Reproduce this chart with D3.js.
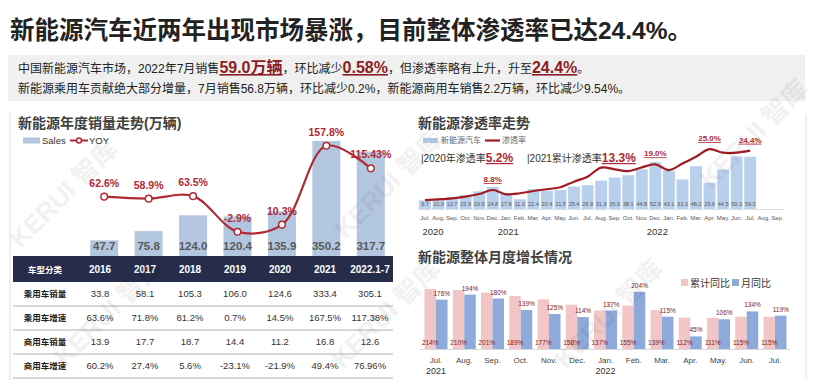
<!DOCTYPE html>
<html>
<head>
<meta charset="utf-8">
<script src="https://d3js.org/d3.v7.min.js"></script>
<style>
  html, body { margin: 0; padding: 0; background: #fff; }
  svg text { font-family: "Liberation Sans", "Noto Sans CJK SC", sans-serif; }
</style>
</head>
<body>
<svg id="vis" width="815" height="387"></svg>
<script>
// ---- annual sales (left) ----
var years = ['2016', '2017', '2018', '2019', '2020', '2021', '2022.1-7'];
var sales = [47.7, 75.8, 124.0, 120.4, 135.9, 350.2, 317.7];
var yoy = [62.6, 58.9, 63.5, -2.9, 10.3, 157.8, 115.43];
var yoyLabels = ['62.6%', '58.9%', '63.5%', '-2.9%', '10.3%', '157.8%', '115.43%'];

// ---- table under the annual chart ----
var rowNames = ['乘用车销量', '乘用车增速', '商用车销量', '商用车增速'];
var paxSales = ['33.8', '58.1', '105.3', '106.0', '124.6', '333.4', '305.1'];
var paxGrowth = ['63.6%', '71.8%', '81.2%', '0.7%', '14.5%', '167.5%', '117.38%'];
var comSales = ['13.9', '17.7', '18.7', '14.4', '11.2', '16.8', '12.6'];
var comGrowth = ['60.2%', '27.4%', '5.6%', '-23.1%', '-21.9%', '49.4%', '76.96%'];

// ---- monthly penetration (top right) ----
var penTicks = ['Jul.', 'Aug.', 'Sep.', 'Oct.', 'Nov.', 'Dec.', 'Jan.', 'Feb.', 'Mar.', 'Apr.', 'May.', 'Jun.',
                'Jul.', 'Aug.', 'Sep.', 'Oct.', 'Nov.', 'Dec.', 'Jan.', 'Feb.', 'Mar.', 'Apr.', 'May.', 'Jun.',
                'Jul.', 'Aug.', 'Sep.'];
var penSales = [9.7, 10.9, 13.7, 15.9, 19.9, 24.8, 17.8, 11.0, 22.4, 20.4, 21.5, 25.4, 26.9,
                31.9, 35.6, 38.1, 44.8, 52.9, 43.1, 33.3, 48.2, 29.6, 44.5, 59.3, 59.0];
var penRate = [4.8, 5.1, 5.5, 6.2, 7.2, 8.8, 7.1, 7.5, 8.4, 9.1, 9.9, 12.1, 14.1,
               17.7, 17.0, 16.3, 17.8, 19.0, 16.7, 19.3, 22.0, 25.0, 23.6, 23.6, 24.4];
var penMarked = [5, 17, 21, 24];
var penYears = ['2020', '2021', '2022'];
var penYearAt = [0, 6, 17];

// ---- monthly growth (bottom right) ----
var growthTicks = ['Jul.', 'Aug.', 'Sep.', 'Oct.', 'Nov.', 'Dec.', 'Jan.', 'Feb.', 'Mar.', 'Apr.', 'May.', 'Jun.', 'Jul.'];
var cumYoy = [214, 210, 201, 189, 177, 158, 137, 155, 139, 112, 111, 115, 115];
var monYoy = [176, 194, 180, 139, 125, 114, 137, 204, 115, 45, 106, 134, 119];
var growthYears = ['2021', '2022'];
var growthYearAt = [0, 6];

var svg = d3.select('#vis');
var red = '#b02a33';
var darkRed = '#8c1d22';

// headline
svg.append('text')
    .attr('x', 10).attr('y', 39)
    .style('font-size', '24.5px').style('font-weight', 'bold').style('fill', '#222')
    .text('新能源汽车近两年出现市场暴涨，目前整体渗透率已达24.4%。');

svg.append('rect')
    .attr('x', 8).attr('y', 55).attr('width', 797).attr('height', 46)
    .attr('fill', '#f0f0f0');

var l1 = svg.append('text').attr('x', 18).attr('y', 73)
    .style('font-size', '12px').style('fill', '#222');
var parts = [['中国新能源汽车市场，2022年7月销售', 0], ['59.0万辆', 1], ['，环比减少', 0],
             ['0.58%', 1], ['，但渗透率略有上升，升至', 0], ['24.4%', 1], ['。', 0]];
parts.forEach(function(p) {
    var t = l1.append('tspan').text(p[0]);
    if (p[1]) {
        t.style('font-size', '16px').style('font-weight', 'bold')
         .style('fill', darkRed).style('text-decoration', 'underline');
    }
});
svg.append('text').attr('x', 18).attr('y', 93)
    .style('font-size', '12px').style('fill', '#222')
    .text('新能源乘用车贡献绝大部分增量，7月销售56.8万辆，环比减少0.2%，新能源商用车销售2.2万辆，环比减少9.54%。');

// panel borders
svg.append('line').attr('x1', 10).attr('x2', 10).attr('y1', 113).attr('y2', 380)
    .attr('stroke', '#dcdcdc');
svg.append('line').attr('x1', 806).attr('x2', 806).attr('y1', 115).attr('y2', 378)
    .attr('stroke', '#dcdcdc');

// ================= left: annual chart =================
svg.append('text').attr('x', 18).attr('y', 128)
    .style('font-size', '14px').style('font-weight', 'bold').style('fill', '#404040')
    .text('新能源年度销量走势(万辆)');

var barColor = '#b3c6df';
svg.append('rect').attr('x', 23).attr('y', 137.5).attr('width', 17).attr('height', 6).attr('fill', barColor);
svg.append('text').attr('x', 42).attr('y', 143.5).style('font-size', '9.5px').style('fill', '#333').text('Sales');
svg.append('line').attr('x1', 70).attr('x2', 88).attr('y1', 140.5).attr('y2', 140.5)
    .attr('stroke', red).attr('stroke-width', 2);
svg.append('circle').attr('cx', 79).attr('cy', 140.5).attr('r', 2.5)
    .attr('fill', '#fff').attr('stroke', red).attr('stroke-width', 1.5);
svg.append('text').attr('x', 89).attr('y', 143.5).style('font-size', '9.5px').style('fill', '#333').text('YOY');

var x_annual = d3.scaleBand()
    .domain(years)
    .range([82, 393])
    .paddingInner(0.37)
    .paddingOuter(0.185);
var y_sales = d3.scaleLinear().domain([0, 350.2]).range([256, 141]);
var y_yoy = d3.scaleLinear().domain([-2.9, 157.8]).range([231.7, 145.7]);

svg.selectAll('.abar')
    .data(years)
    .enter()
    .append('rect')
    .attr('class', 'abar')
    .attr('x', function(d) { return x_annual(d); })
    .attr('width', x_annual.bandwidth())
    .attr('y', function(d, i) { return y_sales(sales[i]); })
    .attr('height', function(d, i) { return y_sales(0) - y_sales(sales[i]); })
    .attr('fill', barColor);

svg.selectAll('.alabel')
    .data(years)
    .enter()
    .append('text')
    .attr('class', 'alabel')
    .attr('x', function(d) { return x_annual(d) + x_annual.bandwidth() / 2; })
    .attr('y', 249.5)
    .attr('text-anchor', 'middle')
    .style('font-size', '11.5px').style('font-weight', 'bold').style('fill', '#595959')
    .text(function(d, i) { return sales[i].toFixed(1); });

var yoyLine = d3.line()
    .x(function(d, i) { return x_annual(years[i]) + x_annual.bandwidth() / 2; })
    .y(function(d) { return y_yoy(d); })
    .curve(d3.curveCatmullRom.alpha(0.5));

svg.append('path')
    .datum(yoy)
    .attr('d', yoyLine)
    .attr('fill', 'none')
    .attr('stroke', red)
    .attr('stroke-width', 2.2);

svg.selectAll('.ydot')
    .data(yoy)
    .enter()
    .append('circle')
    .attr('class', 'ydot')
    .attr('cx', function(d, i) { return x_annual(years[i]) + x_annual.bandwidth() / 2; })
    .attr('cy', function(d) { return y_yoy(d); })
    .attr('r', 3.3)
    .attr('fill', '#fff')
    .attr('stroke', red)
    .attr('stroke-width', 1.5);

svg.selectAll('.ylabel')
    .data(yoy)
    .enter()
    .append('text')
    .attr('class', 'ylabel')
    .attr('x', function(d, i) { return x_annual(years[i]) + x_annual.bandwidth() / 2; })
    .attr('y', function(d) { return y_yoy(d) - 10; })
    .attr('text-anchor', 'middle')
    .style('font-size', '10.5px').style('font-weight', 'bold').style('fill', red)
    .text(function(d, i) { return yoyLabels[i]; });

// table
var x_table = d3.scaleBand().domain(years).range([77.5, 392.5]);
var tableTop = 256, headH = 26, rowH = 24;
svg.append('rect').attr('x', 13).attr('y', tableTop).attr('width', 380).attr('height', headH)
    .attr('fill', '#262d4b');
svg.append('text').attr('x', 45).attr('y', tableTop + 17).attr('text-anchor', 'middle')
    .style('font-size', '8.5px').style('font-weight', 'bold').style('fill', '#fff').text('车型分类');
svg.selectAll('.thead')
    .data(years)
    .enter()
    .append('text')
    .attr('class', 'thead')
    .attr('x', function(d) { return x_table(d) + x_table.bandwidth() / 2; })
    .attr('y', tableTop + 17)
    .attr('text-anchor', 'middle')
    .style('font-size', '10px').style('font-weight', 'bold').style('fill', '#fff')
    .text(function(d) { return d; });

var rows = [paxSales, paxGrowth, comSales, comGrowth];
rows.forEach(function(row, r) {
    var y0 = tableTop + headH + r * rowH;
    svg.append('text').attr('x', 45).attr('y', y0 + 15).attr('text-anchor', 'middle')
        .style('font-size', '8.5px').style('font-weight', 'bold').style('fill', '#222')
        .text(rowNames[r]);
    svg.selectAll('.cell' + r)
        .data(row)
        .enter()
        .append('text')
        .attr('x', function(d, i) { return x_table(years[i]) + x_table.bandwidth() / 2; })
        .attr('y', y0 + 15)
        .attr('text-anchor', 'middle')
        .style('font-size', '9.5px').style('fill', '#333')
        .text(function(d) { return d; });
    svg.append('line').attr('x1', 13).attr('x2', 393).attr('y1', y0 + rowH).attr('y2', y0 + rowH)
        .attr('stroke', '#9a9a9a').attr('stroke-width', 0.8);
});

// ================= top right: penetration =================
svg.append('text').attr('x', 418).attr('y', 128)
    .style('font-size', '14px').style('font-weight', 'bold').style('fill', '#404040')
    .text('新能源渗透率走势');

var penBar = '#b9d0ed';
svg.append('rect').attr('x', 423).attr('y', 138).attr('width', 15).attr('height', 5).attr('fill', penBar);
svg.append('text').attr('x', 441).attr('y', 143).style('font-size', '8px').style('fill', '#666').text('新能源汽车');
svg.append('line').attr('x1', 485).attr('x2', 500).attr('y1', 140.5).attr('y2', 140.5)
    .attr('stroke', '#a31b22').attr('stroke-width', 2.2);
svg.append('text').attr('x', 502).attr('y', 143).style('font-size', '8px').style('fill', '#666').text('渗透率');

var a1 = svg.append('text').attr('x', 421).attr('y', 162).style('font-size', '10px').style('fill', '#333');
a1.append('tspan').text('|2020年渗透率');
a1.append('tspan').text('5.2%').style('font-size', '12px').style('font-weight', 'bold')
    .style('fill', red).style('text-decoration', 'underline');
var a2 = svg.append('text').attr('x', 527).attr('y', 162).style('font-size', '10px').style('fill', '#333');
a2.append('tspan').text('|2021累计渗透率');
a2.append('tspan').text('13.3%').style('font-size', '12px').style('font-weight', 'bold')
    .style('fill', red).style('text-decoration', 'underline');

var x_pen = d3.scaleBand()
    .domain(d3.range(penTicks.length))
    .range([418.2, 784.1])
    .paddingInner(0.12)
    .paddingOuter(0.06);
var penC = function(i) { return x_pen(i) + x_pen.bandwidth() / 2; };
var y_penBar = d3.scaleLinear().domain([0, 59]).range([209, 156.7]);
var y_penRate = d3.scaleLinear().domain([8.8, 19.0]).range([190, 164.3]);

svg.selectAll('.pbar')
    .data(penSales)
    .enter()
    .append('rect')
    .attr('class', 'pbar')
    .attr('x', function(d, i) { return x_pen(i); })
    .attr('width', x_pen.bandwidth())
    .attr('y', function(d) { return y_penBar(d); })
    .attr('height', function(d) { return y_penBar(0) - y_penBar(d); })
    .attr('fill', penBar);

svg.selectAll('.plabel')
    .data(penSales)
    .enter()
    .append('text')
    .attr('class', 'plabel')
    .attr('x', function(d, i) { return penC(i); })
    .attr('y', 206)
    .attr('text-anchor', 'middle')
    .style('font-size', '5.5px').style('fill', '#555')
    .text(function(d) { return d.toFixed(1); });

svg.append('line').attr('x1', 418).attr('x2', 784).attr('y1', 209.5).attr('y2', 209.5)
    .attr('stroke', '#d4d4d4').attr('stroke-width', 0.8);

var x_penAxis = d3.axisBottom(x_pen).tickSize(0).tickPadding(0)
    .tickFormat(function(d) { return penTicks[d]; });
var gPen = svg.append('g').attr('transform', 'translate(0,216)').call(x_penAxis);
gPen.select('.domain').remove();
gPen.selectAll('text').style('font-size', '6px').style('fill', '#555')
    .style('font-family', '"Liberation Sans", sans-serif');

svg.selectAll('.pyear')
    .data(penYears)
    .enter()
    .append('text')
    .attr('class', 'pyear')
    .attr('x', function(d, i) { return penC(penYearAt[i]) + (i === 0 ? 8 : 2); })
    .attr('y', 235)
    .attr('text-anchor', 'middle')
    .style('font-size', '9.5px').style('fill', '#333')
    .text(function(d) { return d; });

var penLine = d3.line()
    .x(function(d, i) { return penC(i); })
    .y(function(d) { return y_penRate(d); })
    .curve(d3.curveCatmullRom.alpha(0.5));
svg.append('path')
    .datum(penRate)
    .attr('d', penLine)
    .attr('fill', 'none')
    .attr('stroke', '#a31b22')
    .attr('stroke-width', 2.2);

svg.selectAll('.prate')
    .data(penMarked)
    .enter()
    .append('text')
    .attr('class', 'prate')
    .attr('x', function(d) { return penC(d); })
    .attr('y', function(d) { return y_penRate(penRate[d]) - 8; })
    .attr('text-anchor', 'middle')
    .style('font-size', '8px').style('font-weight', 'bold').style('fill', red)
    .style('text-decoration', 'underline')
    .text(function(d) { return penRate[d].toFixed(1) + '%'; });

// ================= bottom right: monthly growth =================
svg.append('text').attr('x', 418).attr('y', 262)
    .style('font-size', '14px').style('font-weight', 'bold').style('fill', '#404040')
    .text('新能源整体月度增长情况');

var pink = '#f2c6c7', blue = '#8eaadb';
svg.append('rect').attr('x', 681).attr('y', 279).attr('width', 7).attr('height', 7).attr('fill', pink);
svg.append('text').attr('x', 690).attr('y', 287).style('font-size', '10px').style('fill', '#333').text('累计同比');
svg.append('rect').attr('x', 732).attr('y', 279).attr('width', 7).attr('height', 7).attr('fill', blue);
svg.append('text').attr('x', 741).attr('y', 287).style('font-size', '10px').style('fill', '#333').text('月同比');

var x_g = d3.scaleBand()
    .domain(d3.range(growthTicks.length))
    .range([421.9, 789.1])
    .paddingInner(0.186)
    .paddingOuter(0.093);
var x_g1 = d3.scaleBand().domain(['cum', 'mon']).range([0, x_g.bandwidth()]);
var y_g = d3.scaleLinear().domain([0, 214]).range([349, 289]);

svg.selectAll('.gcum')
    .data(cumYoy)
    .enter()
    .append('rect')
    .attr('x', function(d, i) { return x_g(i) + x_g1('cum'); })
    .attr('width', x_g1.bandwidth())
    .attr('y', function(d) { return y_g(d); })
    .attr('height', function(d) { return y_g(0) - y_g(d); })
    .attr('fill', pink);
svg.selectAll('.gmon')
    .data(monYoy)
    .enter()
    .append('rect')
    .attr('x', function(d, i) { return x_g(i) + x_g1('mon'); })
    .attr('width', x_g1.bandwidth())
    .attr('y', function(d) { return y_g(d); })
    .attr('height', function(d) { return y_g(0) - y_g(d); })
    .attr('fill', blue);

svg.selectAll('.gcl')
    .data(cumYoy)
    .enter()
    .append('text')
    .attr('x', function(d, i) { return x_g(i) + x_g1('cum') + x_g1.bandwidth() / 2; })
    .attr('y', 345)
    .attr('text-anchor', 'middle')
    .style('font-size', '6.5px').style('fill', '#7a2222')
    .text(function(d) { return d + '%'; });
svg.selectAll('.gml')
    .data(monYoy)
    .enter()
    .append('text')
    .attr('x', function(d, i) { return x_g(i) + x_g1('mon') + x_g1.bandwidth() / 2; })
    .attr('y', function(d) { return y_g(d) - 4; })
    .attr('text-anchor', 'middle')
    .style('font-size', '6.5px').style('fill', '#7a2222')
    .text(function(d) { return d + '%'; });

svg.append('line').attr('x1', 420).attr('x2', 790).attr('y1', 349.5).attr('y2', 349.5)
    .attr('stroke', '#cfcfcf').attr('stroke-width', 0.8);

var x_gAxis = d3.axisBottom(x_g).tickSize(0).tickPadding(0)
    .tickFormat(function(d) { return growthTicks[d]; });
var gG = svg.append('g').attr('transform', 'translate(0,357)').call(x_gAxis);
gG.select('.domain').remove();
gG.selectAll('text').style('font-size', '8px').style('fill', '#444')
    .style('font-family', '"Liberation Sans", sans-serif');

svg.selectAll('.gyear')
    .data(growthYears)
    .enter()
    .append('text')
    .attr('x', function(d, i) { return x_g(growthYearAt[i]) + x_g.bandwidth() / 2; })
    .attr('y', 374)
    .attr('text-anchor', 'middle')
    .style('font-size', '9px').style('fill', '#333')
    .text(function(d) { return d; });

// watermarks on top, faint
var marks = [[70, 200], [115, 318], [395, 190], [392, 320], [615, 320], [760, 140]];
svg.selectAll('.wm')
    .data(marks)
    .enter()
    .append('text')
    .attr('class', 'wm')
    .attr('transform', function(d) { return 'translate(' + d[0] + ',' + d[1] + ') rotate(-45)'; })
    .attr('text-anchor', 'middle')
    .style('font-size', '26px')
    .style('font-weight', 'bold')
    .style('fill', '#000')
    .style('opacity', 0.05)
    .text('KERUI 智库');
</script>
</body>
</html>
